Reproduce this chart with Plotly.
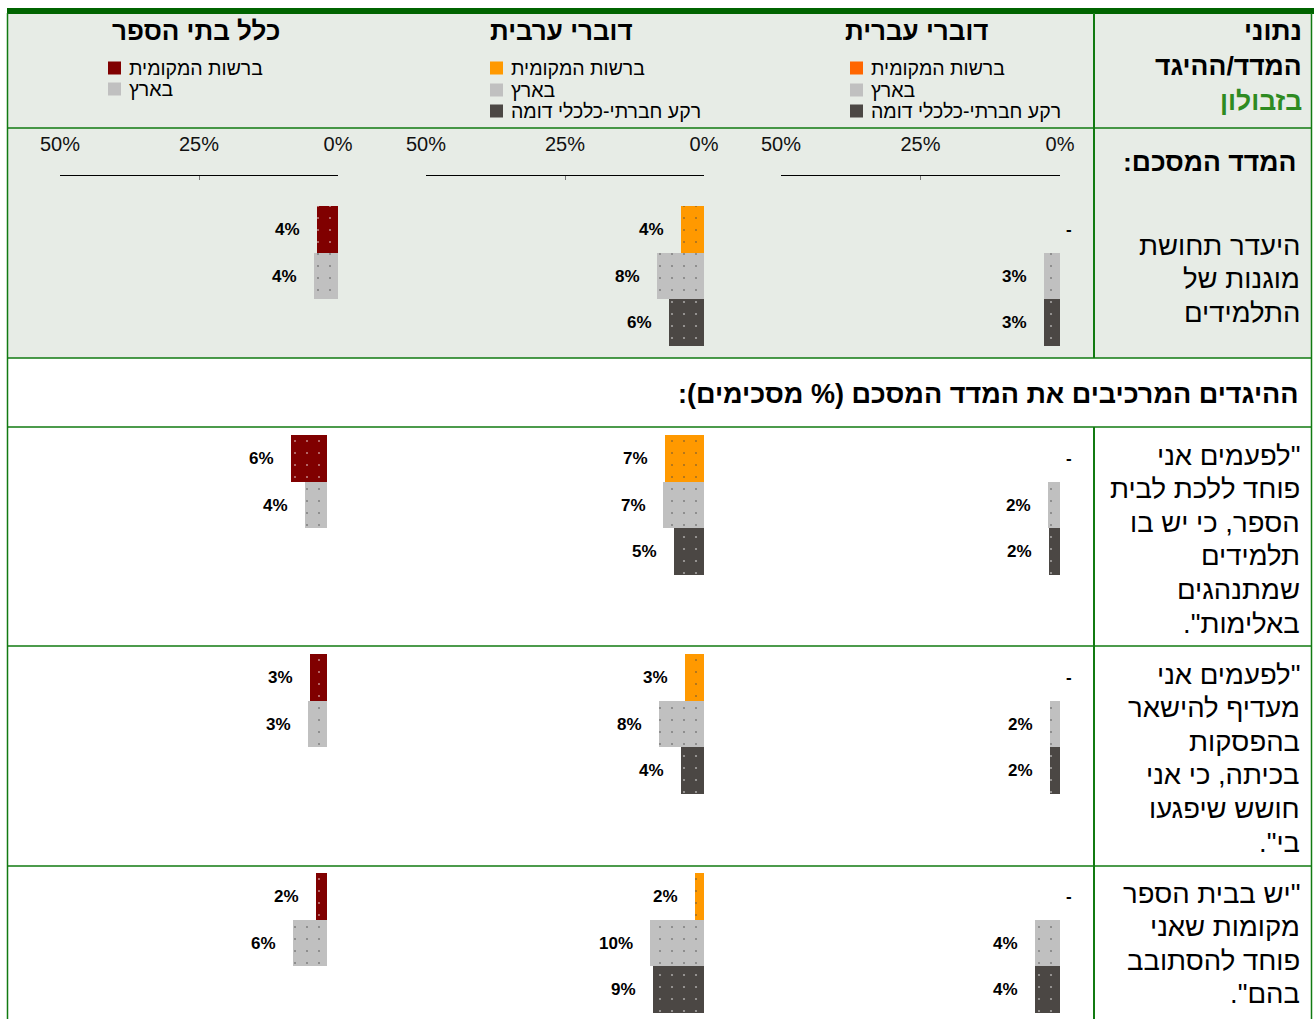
import plotly.graph_objects as go

W, H = 1314, 1019

# ---------------- data ----------------
panel_titles = ["כלל בתי הספר", "דוברי ערבית", "דוברי עברית"]
series_names = ["ברשות המקומית", "בארץ", "רקע חברתי-כלכלי דומה"]
tick_vals = [50, 25, 0]
tick_labels = ["50%", "25%", "0%"]

header_lines = ["נתוני", "המדד/ההיגד", "בזבולון"]
index_title = "המדד המסכם:"
section_title = "ההיגדים המרכיבים את המדד המסכם (% מסכימים):"
row_labels = [
    ["היעדר תחושת", "מוגנות של", "התלמידים"],
    ['"לפעמים אני', "פוחד ללכת לבית", "הספר, כי יש בו", "תלמידים", "שמתנהגים", 'באלימות".'],
    ['"לפעמים אני', "מעדיף להישאר", "בהפסקות", "בכיתה, כי אני", "חושש שיפגעו", 'בי".'],
    ['"יש בבית הספר', "מקומות שאני", "פוחד להסתובב", 'בהם".'],
]

# % values: [summary index, item 1, item 2, item 3]; None = no data ("-")
all_local = [3.8, 6.4, 3.0, 2.0]
all_national = [4.4, 4.0, 3.4, 6.1]
arab_local = [4.1, 7.0, 3.4, 1.7]
arab_national = [8.4, 7.4, 8.1, 9.7]
arab_ses = [6.3, 5.4, 4.1, 9.2]
heb_local = [None, None, None, None]
heb_national = [2.9, 2.2, 1.8, 4.4]
heb_ses = [2.9, 2.0, 1.8, 4.4]

panel_series = [
    [all_local, all_national, None],
    [arab_local, arab_national, arab_ses],
    [heb_local, heb_national, heb_ses],
]

# ---------------- style ----------------
FONT = "Liberation Sans, Arial, DejaVu Sans, sans-serif"
BG = "#E7ECE6"
GREEN_DARK = "#006400"
GREEN = "#117A11"
local_colors = ["#800000", "#FF9900", "#FF6600"]
local_dots = ["white", "black", "black"]
nat_color, nat_dot = "#C0C0C0", "black"
ses_color, ses_dot = "#4B4744", "white"

SLOT = 46.67
row_bar_top = [206, 435, 654, 873]
axis_line_y = 176
panel_x = [
    [(60, 338), (49, 327), (49, 327), (49, 327)],
    [(426, 704)] * 4,
    [(781, 1060)] * 4,
]
title_cx = [196, 561, 916]
legend_sw_x = [108, 490, 850]
legend_rows_y = [68, 90, 111]
row_text_top = [245, 455, 674, 893]
LINE_STEP = 33.6
TXT = 26
ROWTXT = 27.5


def fx(x):
    return x / W


def fy(y):
    return 1 - y / H


def rtl(s):
    return "\u200f" + s + "\u200f"


fig = go.Figure()
layout = {}
annotations = []
shapes = []

k = 0
for r in range(4):
    for p in range(3):
        k += 1
        xa, ya = f"x{k}", f"y{k}"
        xname = "xaxis" if k == 1 else f"xaxis{k}"
        yname = "yaxis" if k == 1 else f"yaxis{k}"
        x50, x0 = panel_x[p][r]
        top = row_bar_top[r]
        bottom = top + 3 * SLOT
        if r == 0:
            dom_top = axis_line_y
            yrange = [2.5, -0.5 - (top - axis_line_y) / SLOT]
        else:
            dom_top = top
            yrange = [2.5, -0.5]
        layout[yname] = dict(domain=[fy(bottom), fy(dom_top)], range=yrange,
                             visible=False, fixedrange=True, anchor=xa, automargin=False)
        xcfg = dict(domain=[fx(x50), fx(x0)], range=[50, 0], anchor=ya, automargin=False,
                    showgrid=False, zeroline=False, fixedrange=True)
        if r == 0:
            xcfg.update(side="top", showline=True, linecolor="#000000", linewidth=1,
                        ticks="inside", ticklen=4, tickcolor="#777777",
                        tickvals=tick_vals, ticktext=tick_labels,
                        tickfont=dict(family=FONT, size=20, color="#111111"),
                        ticklabelstandoff=16)
        else:
            xcfg.update(visible=False)
        layout[xname] = xcfg

        s_local, s_nat, s_ses = panel_series[p]
        defs = [(s_local, local_colors[p], local_dots[p]),
                (s_nat, nat_color, nat_dot),
                (s_ses, ses_color, ses_dot)]
        xs, ys, cols, dots = [], [], [], []
        for i, (s, c, d) in enumerate(defs):
            if s is None:
                continue
            v = s[r]
            if v is None:
                annotations.append(dict(x=0, y=i, xref=xa, yref=ya, text="<b>-</b>",
                                        showarrow=False, xanchor="left", xshift=4,
                                        font=dict(family=FONT, size=17, color="#000"),
                                        yanchor="middle"))
                continue
            xs.append(v)
            ys.append(i)
            cols.append(c)
            dots.append(d)
            annotations.append(dict(x=v, y=i, xref=xa, yref=ya,
                                    text=f"<b>{int(v + 0.5)}%</b>", showarrow=False,
                                    xanchor="right", xshift=-15, yanchor="middle",
                                    font=dict(family=FONT, size=17, color="#000")))
        fig.add_trace(go.Bar(
            x=xs, y=ys, orientation="h", width=[1] * len(xs),
            marker=dict(color=cols, line=dict(width=0),
                        pattern=dict(shape=".", fillmode="overlay", fgcolor=dots,
                                     size=12, solidity=0.025)),
            xaxis=xa, yaxis=ya, showlegend=False, hoverinfo="skip"))

# ---------------- table backgrounds & lines ----------------
shapes.append(dict(type="rect", xref="paper", yref="paper", x0=fx(7), x1=fx(1312),
                   y0=fy(128), y1=fy(13), fillcolor=BG, line=dict(width=0), layer="below"))
shapes.append(dict(type="rect", xref="paper", yref="paper", x0=fx(7), x1=fx(1312),
                   y0=fy(358), y1=fy(128), fillcolor=BG, line=dict(width=0), layer="below"))
shapes.append(dict(type="rect", xref="paper", yref="paper", x0=fx(7), x1=fx(1314),
                   y0=fy(14), y1=fy(8), fillcolor=GREEN_DARK, line=dict(width=0), layer="below"))
for yy in [128, 358, 427, 646, 866]:
    shapes.append(dict(type="line", xref="paper", yref="paper", x0=fx(7), x1=fx(1312),
                       y0=fy(yy), y1=fy(yy), line=dict(color=GREEN, width=1.5), layer="below"))
for (ya_, yb_) in [(13, 358), (427, H)]:
    shapes.append(dict(type="line", xref="paper", yref="paper", x0=fx(1094), x1=fx(1094),
                       y0=fy(ya_), y1=fy(yb_), line=dict(color=GREEN, width=2), layer="below"))
for xx in [7.5, 1311.5]:
    shapes.append(dict(type="line", xref="paper", yref="paper", x0=fx(xx), x1=fx(xx),
                       y0=fy(13), y1=fy(H), line=dict(color=GREEN, width=1.5), layer="below"))

# ---------------- header: titles & legends ----------------
for p in range(3):
    annotations.append(dict(x=fx(title_cx[p]), y=fy(31), xref="paper", yref="paper",
                            text=f"<b>{rtl(panel_titles[p])}</b>", showarrow=False,
                            xanchor="center", yanchor="middle",
                            font=dict(family=FONT, size=TXT, color="#000")))
    entries = [(series_names[0], local_colors[p]), (series_names[1], nat_color)]
    if panel_series[p][2] is not None:
        entries.append((series_names[2], ses_color))
    for j, (name, col) in enumerate(entries):
        cy = legend_rows_y[j] if p > 0 else [68, 89][j]
        sx = legend_sw_x[p]
        shapes.append(dict(type="rect", xref="paper", yref="paper", x0=fx(sx), x1=fx(sx + 13),
                           y0=fy(cy + 6.5), y1=fy(cy - 6.5), fillcolor=col, line=dict(width=0)))
        annotations.append(dict(x=fx(sx + 19), y=fy(cy), xref="paper", yref="paper",
                                text=rtl(name), showarrow=False, xanchor="left", yanchor="middle",
                                font=dict(family=FONT, size=19.5, color="#000")))

for j, line in enumerate(header_lines):
    annotations.append(dict(x=fx(1304), y=fy(31 + 35 * j), xref="paper", yref="paper",
                            text=f"<b>{rtl(line)}</b>", showarrow=False, xanchor="right",
                            yanchor="middle",
                            font=dict(family=FONT, size=26.5,
                                      color="#2E8B22" if j == 2 else "#000")))

annotations.append(dict(x=fx(1298), y=fy(162), xref="paper", yref="paper",
                        text=f"<b>{rtl(index_title)}</b>", showarrow=False, xanchor="right",
                        yanchor="middle", font=dict(family=FONT, size=26.5, color="#000")))
annotations.append(dict(x=fx(1301), y=fy(394), xref="paper", yref="paper",
                        text=f"<b>{rtl(section_title)}</b>", showarrow=False, xanchor="right",
                        yanchor="middle", font=dict(family=FONT, size=27, color="#000")))

for r in range(4):
    for j, line in enumerate(row_labels[r]):
        annotations.append(dict(x=fx(1302), y=fy(row_text_top[r] + LINE_STEP * j),
                                xref="paper", yref="paper", text=rtl(line), showarrow=False,
                                xanchor="right", yanchor="middle",
                                font=dict(family=FONT, size=ROWTXT, color="#000")))

fig.update_layout(
    width=W, height=H, autosize=False,
    margin=dict(l=0, r=0, t=0, b=0, pad=0, autoexpand=False),
    paper_bgcolor="white", plot_bgcolor="rgba(0,0,0,0)",
    barmode="overlay", bargap=0, showlegend=False,
    annotations=annotations, shapes=shapes,
    font=dict(family=FONT),
    **layout,
)

fig.write_html("out.html", config={"displayModeBar": False, "responsive": False},
               post_script="document.body.style.margin='0';document.body.style.overflow='hidden';")
